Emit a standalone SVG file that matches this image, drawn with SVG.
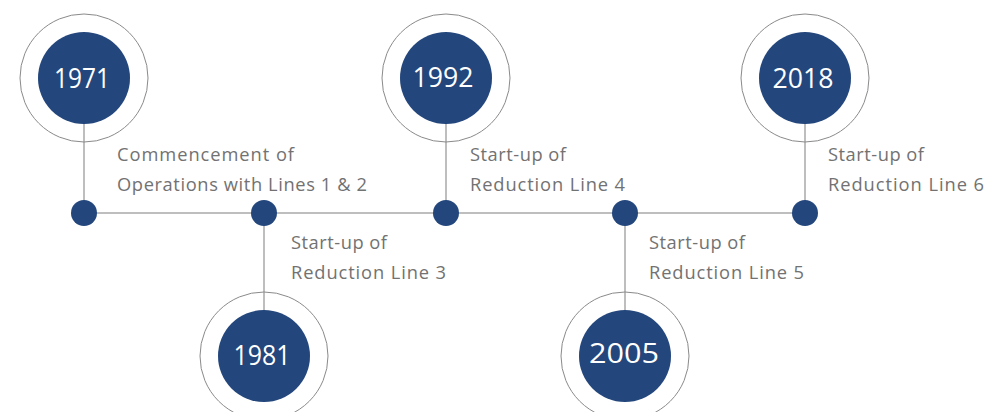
<svg xmlns="http://www.w3.org/2000/svg" width="989" height="412" viewBox="0 0 989 412">
<style>
.ring{fill:none;stroke:#8a8a8a;stroke-width:1}
.core{fill:#23467c}
.dot{fill:#23467c}
.yr{font-family:"Open Sans","Liberation Sans",sans-serif;font-size:28px;font-weight:400;fill:#ffffff;text-anchor:middle}
.lbl{font-family:"Open Sans","Liberation Sans",sans-serif;font-size:18.3px;font-weight:400;fill:#727272}
.ln{stroke:#a8a8a8;stroke-width:1.5;fill:none}
</style>
<rect width="989" height="412" fill="#ffffff"/>
<g id="connectors">
<line class="ln" x1="84" y1="213" x2="805" y2="213"/>
<line class="ln" x1="84" y1="124" x2="84" y2="213"/>
<line class="ln" x1="264" y1="213" x2="264" y2="310"/>
<line class="ln" x1="446" y1="124" x2="446" y2="213"/>
<line class="ln" x1="625" y1="213" x2="625" y2="310"/>
<line class="ln" x1="805" y1="124" x2="805" y2="213"/>
</g>
<g id="node-1971">
<circle class="ring" cx="84" cy="78" r="64"/>
<circle class="core" cx="84" cy="78" r="46"/>
<text class="yr" x="82" y="88" textLength="56" lengthAdjust="spacingAndGlyphs">1971</text>
<circle class="dot" cx="84" cy="213" r="13"/>
<text class="lbl" x="117" y="161" textLength="177">Commencement of</text>
<text class="lbl" x="117" y="191" textLength="250">Operations with Lines 1 &amp; 2</text>
</g>
<g id="node-1981">
<circle class="ring" cx="264" cy="356" r="64"/>
<circle class="core" cx="264" cy="356" r="46"/>
<text class="yr" x="262" y="365" textLength="57" lengthAdjust="spacingAndGlyphs">1981</text>
<circle class="dot" cx="264" cy="213" r="13"/>
<text class="lbl" x="291" y="249" textLength="96">Start-up of</text>
<text class="lbl" x="291" y="279" textLength="155">Reduction Line 3</text>
</g>
<g id="node-1992">
<circle class="ring" cx="446" cy="78" r="64"/>
<circle class="core" cx="446" cy="78" r="46"/>
<text class="yr" x="443" y="87" textLength="61" lengthAdjust="spacingAndGlyphs">1992</text>
<circle class="dot" cx="446" cy="213" r="13"/>
<text class="lbl" x="470" y="161" textLength="96">Start-up of</text>
<text class="lbl" x="470" y="191" textLength="155">Reduction Line 4</text>
</g>
<g id="node-2005">
<circle class="ring" cx="625" cy="356" r="64"/>
<circle class="core" cx="625" cy="356" r="46"/>
<text class="yr" x="624" y="363" textLength="70" lengthAdjust="spacingAndGlyphs">2005</text>
<circle class="dot" cx="625" cy="213" r="13"/>
<text class="lbl" x="649" y="249" textLength="96">Start-up of</text>
<text class="lbl" x="649" y="279" textLength="155">Reduction Line 5</text>
</g>
<g id="node-2018">
<circle class="ring" cx="805" cy="78" r="64"/>
<circle class="core" cx="805" cy="78" r="46"/>
<text class="yr" x="803" y="88" textLength="61" lengthAdjust="spacingAndGlyphs">2018</text>
<circle class="dot" cx="805" cy="213" r="13"/>
<text class="lbl" x="828" y="161" textLength="96">Start-up of</text>
<text class="lbl" x="828" y="191" textLength="156">Reduction Line 6</text>
</g>
</svg>
